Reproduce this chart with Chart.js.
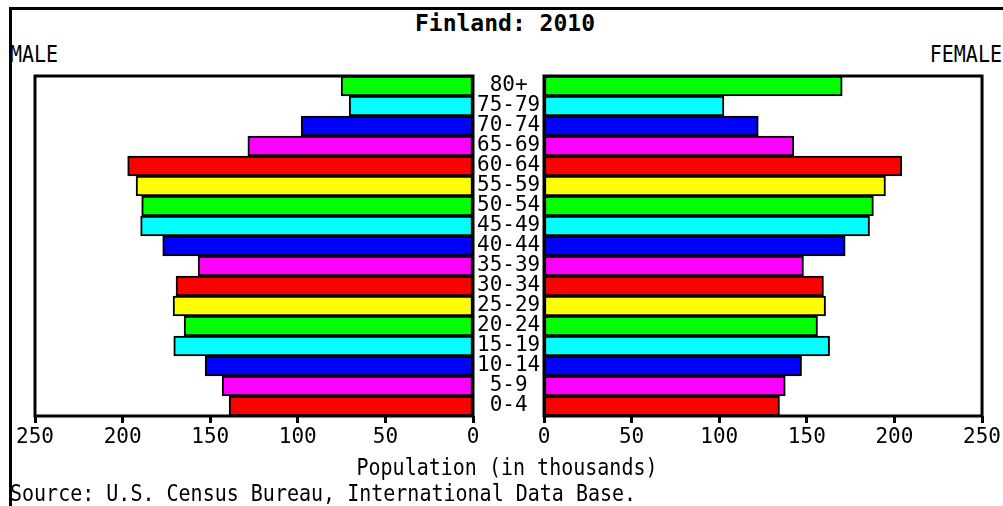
<!DOCTYPE html>
<html>
<head>
<meta charset="utf-8">
<script src="https://cdn.jsdelivr.net/npm/chart.js@4"></script>
<style>
  body { margin: 0; background: #fff; width: 1003px; height: 506px; overflow: hidden; position: relative;
         font-family: "DejaVu Sans Mono", monospace; color: #000; }
  .frame { position: absolute; left: 9px; top: 7px; width: 1100px; height: 600px;
           border-left: 3px solid #000; border-top: 3px solid #000; }
  .t { position: absolute; font-size: 20px; line-height: 20px; white-space: nowrap;
       transform: scaleY(1.15); transform-origin: 50% 17px; }
  canvas { position: absolute; top: 0; }
  #male-chart { left: 0; }
  #female-chart { left: 530px; }
</style>
</head>
<body>
<div class="frame"></div>
<div class="t" id="title" style="left:0;width:1010px;text-align:center;top:12px;font-size:23px;line-height:23px;font-weight:bold;transform:none">Finland: 2010</div>
<div class="t" style="left:10px;top:45px">MALE</div>
<div class="t" style="right:1px;top:45px">FEMALE</div>
<canvas id="male-chart" width="544" height="460"></canvas>
<canvas id="female-chart" width="473" height="460"></canvas>
<div class="t" style="left:0;width:1014px;text-align:center;top:458px">Population (in thousands)</div>
<div class="t" style="left:10px;top:484px">Source: U.S. Census Bureau, International Data Base.</div>

<script>
// Finland 2010 population pyramid, values in thousands, bottom (0-4) to top (80+)
const ageGroups = ['0-4', '5-9', '10-14', '15-19', '20-24', '25-29', '30-34', '35-39', '40-44',
  '45-49', '50-54', '55-59', '60-64', '65-69', '70-74', '75-79', '80+'];
const male = [139.2, 143.2, 152.9, 170.8, 164.9, 171.2, 169.5, 156.9, 177.1,
  189.7, 189.1, 192.3, 197.1, 128.5, 98.1, 70.7, 75.3];
const female = [134.4, 137.7, 147.0, 163.0, 156.1, 160.7, 159.5, 148.1, 171.9,
  185.8, 188.0, 194.9, 204.2, 142.6, 122.3, 102.7, 170.2];
const barColors = ['#ff0000', '#ff00ff', '#0000ff', '#00ffff', '#00ff00', '#ffff00'];
const axisMax = 250;
const axisStep = 50;

const tickFont = { family: 'DejaVu Sans Mono', size: 21 };

// black frame round each plot area
const boxBorder = {
  id: 'boxBorder',
  afterDatasetsDraw(chart) {
    const { ctx, chartArea: a } = chart;
    ctx.save();
    ctx.lineWidth = 3;
    ctx.strokeStyle = '#000';
    ctx.strokeRect(a.left, a.top, a.right - a.left, a.bottom - a.top);
    ctx.restore();
  }
};

function makeSide(id, values, isMale) {
  return new Chart(document.getElementById(id), {
    type: 'bar',
    data: {
      labels: ageGroups,
      datasets: [{
        data: values,
        backgroundColor: ageGroups.map((_, i) => barColors[i % barColors.length]),
        borderColor: '#000',
        borderWidth: 2,
        borderSkipped: false,
        barPercentage: 1,
        categoryPercentage: 1,
      }]
    },
    options: {
      indexAxis: 'y',
      responsive: false,
      animation: false,
      layout: { padding: isMale ? { left: 35, top: 76, right: 0, bottom: 0 }
                                : { left: 14, top: 76, right: 20, bottom: 0 } },
      plugins: { legend: { display: false }, tooltip: { enabled: false } },
      scales: {
        x: {
          min: 0, max: axisMax, reverse: isMale,
          ticks: { stepSize: axisStep, color: '#000', font: tickFont, padding: 2, maxRotation: 0, autoSkip: false },
          grid: { drawOnChartArea: false, tickLength: 7, tickWidth: 3, tickColor: '#000' },
          border: { display: false },
          afterFit: s => { s.height = 44; },
        },
        y: {
          reverse: true,
          display: isMale,
          position: 'right',
          grid: { display: false, drawTicks: false },
          border: { display: false },
          ticks: { color: '#000', font: tickFont, crossAlign: 'center', padding: 4, autoSkip: false },
          // age labels sit in the gap between the two panels
          afterFit: s => { s.width = isMale ? 71 : 0; },
        }
      }
    },
    plugins: [boxBorder]
  });
}

makeSide('male-chart', male, true);
makeSide('female-chart', female, false);
</script>
</body>
</html>
